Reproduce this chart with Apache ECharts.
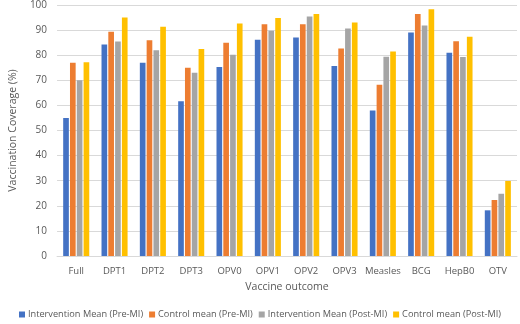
<!DOCTYPE html>
<html>
<head>
<meta charset="utf-8">
<script src="https://cdn.jsdelivr.net/npm/echarts@6/dist/echarts.min.js"></script>
<style>
  html, body { margin: 0; padding: 0; background: #fff; }
  #chart { width: 520px; height: 324px; }
</style>
</head>
<body>
<div id="chart"></div>
<script>
var categories = ['Full', 'DPT1', 'DPT2', 'DPT3', 'OPV0', 'OPV1', 'OPV2', 'OPV3', 'Measles', 'BCG', 'HepB0', 'OTV']
var interventionPre = [55, 84.3, 77, 61.7, 75.3, 86.2, 87.1, 75.7, 58, 89, 81, 18.2]
var controlPre = [77, 89.3, 86, 75, 85, 92.3, 92.3, 82.7, 68.2, 96.4, 85.6, 22.3]
var interventionPost = [70, 85.5, 82, 73, 80.2, 89.7, 95.4, 90.6, 79.4, 91.8, 79.3, 24.8]
var controlPost = [77.2, 95, 91.3, 82.5, 92.6, 94.8, 96.4, 93, 81.5, 98.3, 87.4, 29.9]
var seriesNames = ['Intervention Mean (Pre-MI)', 'Control mean (Pre-MI)', 'Intervention Mean (Post-MI)', 'Control mean (Post-MI)']
var colors = ['#4472C4', '#ED7D31', '#A5A5A5', '#FFC000']

var chart = echarts.init(document.getElementById('chart'))
var font = 'Open Sans'
var textColor = '#595959'

var values = [interventionPre, controlPre, interventionPost, controlPost]
var series = values.map(function (d, i) {
  return {
    name: seriesNames[i],
    type: 'bar',
    data: d,
    barGap: '20%',
    barCategoryGap: '32%',
    itemStyle: { color: colors[i] },
  }
})

chart.setOption({
  animation: false,
  color: colors,
  grid: {
    left: 42,
    right: 3,
    top: 5,
    bottom: 68,
  },
  legend: {
    bottom: 0,
    left: 'center',
    itemWidth: 6,
    itemHeight: 6,
    itemGap: 6,
    icon: 'rect',
    textStyle: { fontFamily: font, fontSize: 9.2, color: textColor, padding: [0, 0, 0, -2] },
  },
  xAxis: {
    type: 'category',
    data: categories,
    name: 'Vaccine outcome',
    nameLocation: 'middle',
    nameGap: 26,
    nameTextStyle: { fontFamily: font, fontSize: 10.5, color: textColor },
    axisTick: { show: false },
    axisLine: { lineStyle: { color: '#d9d9d9' } },
    axisLabel: { interval: 0, fontFamily: font, fontSize: 9.5, color: textColor, margin: 10 },
  },
  yAxis: {
    type: 'value',
    min: 0,
    max: 100,
    interval: 10,
    name: 'Vaccination Coverage (%)',
    nameLocation: 'middle',
    nameGap: 35,
    nameTextStyle: { fontFamily: font, fontSize: 10.5, color: textColor },
    axisLine: { show: false },
    axisTick: { show: false },
    axisLabel: { fontFamily: font, fontSize: 10, color: textColor, margin: 10 },
    splitLine: { lineStyle: { color: '#d9d9d9' } },
  },
  series: series,
})
</script>
</body>
</html>
